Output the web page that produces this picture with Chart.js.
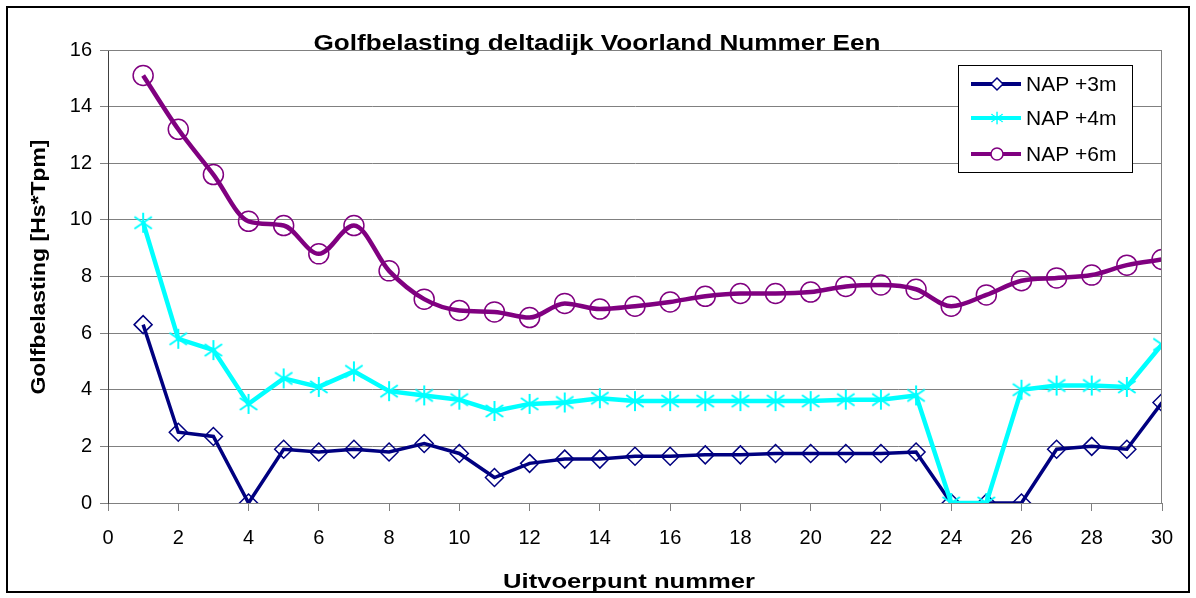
<!DOCTYPE html>
<html>
<head>
<meta charset="utf-8">
<script src="https://cdn.jsdelivr.net/npm/chart.js@4/dist/chart.umd.min.js"></script>
<style>
  html, body { margin: 0; padding: 0; background: #fff; }
  #wrap { width: 1196px; height: 598px; }
</style>
</head>
<body>
<div id="wrap"><canvas id="golf-chart" width="1196" height="598"></canvas></div>
<script>
// Uitvoerpunt nummer (x values)
const points = [1, 2, 3, 4, 5, 6, 7, 8, 9, 10, 11, 12, 13, 14, 15, 16, 17, 18, 19, 20, 21, 22, 23, 24, 25, 26, 27, 28, 29, 30];

// Golfbelasting per level
const nap3 = [6.3, 2.5, 2.35, 0, 1.9, 1.8, 1.9, 1.8, 2.1, 1.75, 0.9, 1.4, 1.55, 1.55, 1.65, 1.65, 1.7, 1.7, 1.75, 1.75, 1.75, 1.75, 1.8, 0, 0, 0, 1.9, 2.0, 1.9, 3.55];
const nap4 = [9.9, 5.8, 5.4, 3.5, 4.4, 4.1, 4.65, 3.95, 3.8, 3.65, 3.25, 3.5, 3.55, 3.7, 3.6, 3.6, 3.6, 3.6, 3.6, 3.6, 3.65, 3.65, 3.8, 0, 0, 4.0, 4.15, 4.15, 4.1, 5.6];
const nap6 = [15.1, 13.2, 11.6, 9.95, 9.8, 8.8, 9.8, 8.2, 7.2, 6.8, 6.75, 6.55, 7.05, 6.85, 6.95, 7.1, 7.3, 7.4, 7.4, 7.45, 7.65, 7.7, 7.55, 6.95, 7.35, 7.85, 7.95, 8.05, 8.4, 8.6];

const seriesLabels = ['NAP +3m', 'NAP +4m', 'NAP +6m'];
const chartTitle = 'Golfbelasting deltadijk Voorland Nummer Een';
const xTitle = 'Uitvoerpunt nummer';
const yTitle = 'Golfbelasting [Hs*Tpm]';

const FONT = '"Liberation Sans", Arial, sans-serif';

// excel style star marker: an X with a vertical bar
function makeStar(color, size) {
  const c = document.createElement('canvas');
  c.width = size; c.height = size;
  const g = c.getContext('2d');
  g.strokeStyle = color;
  g.lineWidth = 2;
  const m = size / 2, r = size / 2 - 1;
  g.beginPath();
  g.moveTo(m - r * 0.87, m - r * 0.6); g.lineTo(m + r * 0.87, m + r * 0.6);
  g.moveTo(m - r * 0.87, m + r * 0.6); g.lineTo(m + r * 0.87, m - r * 0.6);
  g.moveTo(m, m - r); g.lineTo(m, m + r);
  g.stroke();
  return c;
}
const starIcon = makeStar('#00FFFF', 22);

const toXY = (vals) => vals.map((v, i) => ({ x: points[i], y: v }));

// the source picture is a bit wider than its fonts, so stretch text to a width
function stretchedText(ctx, text, cx, cy, width, angle) {
  const w = ctx.measureText(text).width;
  ctx.save();
  ctx.translate(cx, cy);
  if (angle) ctx.rotate(angle);
  ctx.scale(width / w, 1);
  ctx.textAlign = 'center';
  ctx.fillText(text, 0, 0);
  ctx.restore();
}

// frame, plot border, titles and legend box
const decorations = {
  id: 'decorations',
  beforeDraw(chart) {
    const ctx = chart.ctx;
    ctx.save();
    ctx.fillStyle = '#fff';
    ctx.fillRect(0, 0, chart.width, chart.height);
    ctx.restore();
  },
  afterDatasetsDraw(chart) {
    const ctx = chart.ctx;
    const a = chart.chartArea;
    ctx.save();
    // plot area border (top + right)
    ctx.strokeStyle = '#808080';
    ctx.lineWidth = 1;
    ctx.beginPath();
    ctx.moveTo(a.left, a.top + 0.5);
    ctx.lineTo(a.right - 0.5, a.top + 0.5);
    ctx.lineTo(a.right - 0.5, a.bottom);
    ctx.stroke();

    // outer frame
    ctx.strokeStyle = '#000';
    ctx.lineWidth = 2;
    ctx.strokeRect(7, 7, chart.width - 14, chart.height - 13);

    // titles
    ctx.fillStyle = '#000';
    ctx.textBaseline = 'alphabetic';
    ctx.font = 'bold 22px ' + FONT;
    stretchedText(ctx, chartTitle, 597, 50, 567, 0);
    ctx.font = 'bold 20px ' + FONT;
    stretchedText(ctx, xTitle, 629, 588, 252, 0);
    stretchedText(ctx, yTitle, 45, 267, 255, -Math.PI / 2);

    // legend
    const lx = 958, ly = 65, lw = 174, lh = 107;
    ctx.fillStyle = '#fff';
    ctx.fillRect(lx, ly, lw, lh);
    ctx.strokeStyle = '#000';
    ctx.lineWidth = 1;
    ctx.strokeRect(lx + 0.5, ly + 0.5, lw, lh);
    ctx.font = '21px ' + FONT;
    ctx.textAlign = 'left';
    ctx.textBaseline = 'middle';
    chart.data.datasets.forEach((ds, i) => {
      const y = [84, 118, 154][i];
      ctx.strokeStyle = ds.borderColor;
      ctx.lineWidth = 4;
      ctx.beginPath();
      ctx.moveTo(lx + 13, y);
      ctx.lineTo(lx + 63, y);
      ctx.stroke();
      const cx = lx + 39;
      if (ds.pointStyle === 'rectRot') {
        ctx.fillStyle = '#fff';
        ctx.strokeStyle = ds.pointBorderColor;
        ctx.lineWidth = 1.5;
        ctx.beginPath();
        ctx.moveTo(cx, y - 6); ctx.lineTo(cx + 6, y); ctx.lineTo(cx, y + 6); ctx.lineTo(cx - 6, y); ctx.closePath();
        ctx.fill(); ctx.stroke();
      } else if (ds.pointStyle === 'circle') {
        ctx.fillStyle = '#fff';
        ctx.strokeStyle = ds.pointBorderColor;
        ctx.lineWidth = 1.5;
        ctx.beginPath();
        ctx.arc(cx, y, 6, 0, Math.PI * 2);
        ctx.fill(); ctx.stroke();
      } else {
        ctx.drawImage(ds.pointStyle, cx - 7, y - 7, 14, 14);
      }
      ctx.fillStyle = '#000';
      ctx.fillText(ds.label, lx + 68, y + 1);
    });
    ctx.restore();
  }
};

const ctx = document.getElementById('golf-chart').getContext('2d');
new Chart(ctx, {
  type: 'line',
  data: {
    datasets: [
      {
        label: seriesLabels[0],
        data: toXY(nap3),
        borderColor: '#000080',
        borderWidth: 3.5,
        pointStyle: 'rectRot',
        pointRadius: 9,
        pointBorderColor: '#000080',
        pointBackgroundColor: 'rgba(0,0,0,0)',
        pointBorderWidth: 1.5,
        tension: 0,
        order: 3
      },
      {
        label: seriesLabels[1],
        data: toXY(nap4),
        borderColor: '#00FFFF',
        borderWidth: 4.5,
        pointStyle: starIcon,
        pointRadius: 10,
        pointBorderColor: '#00FFFF',
        tension: 0,
        order: 2
      },
      {
        label: seriesLabels[2],
        data: toXY(nap6),
        borderColor: '#800080',
        borderWidth: 4.5,
        pointStyle: 'circle',
        pointRadius: 10,
        pointBorderColor: '#800080',
        pointBackgroundColor: 'rgba(0,0,0,0)',
        pointBorderWidth: 1.5,
        cubicInterpolationMode: 'monotone',
        tension: 0.3,
        order: 1
      }
    ]
  },
  options: {
    responsive: false,
    animation: false,
    layout: { padding: { top: 50, right: 34, left: 0, bottom: 0 } },
    scales: {
      x: {
        type: 'linear',
        min: 0,
        max: 30,
        afterFit: (s) => { s.height = 95; },
        ticks: { stepSize: 2, color: '#000', font: { family: FONT, size: 20 }, padding: 15, maxRotation: 0 },
        grid: { drawOnChartArea: false, drawTicks: true, tickLength: 8, color: '#808080' },
        border: { color: '#808080', width: 1 },
        title: { display: false }
      },
      y: {
        min: 0,
        max: 16,
        afterFit: (s) => { s.width = 108; },
        ticks: { stepSize: 2, color: '#000', font: { family: FONT, size: 20 }, padding: 8 },
        grid: { color: '#808080', tickLength: 8, lineWidth: 1 },
        border: { color: '#404040', width: 1 },
        title: { display: false }
      }
    },
    plugins: {
      legend: { display: false },
      title: { display: false },
      tooltip: { enabled: false }
    }
  },
  plugins: [decorations]
});
</script>
</body>
</html>
